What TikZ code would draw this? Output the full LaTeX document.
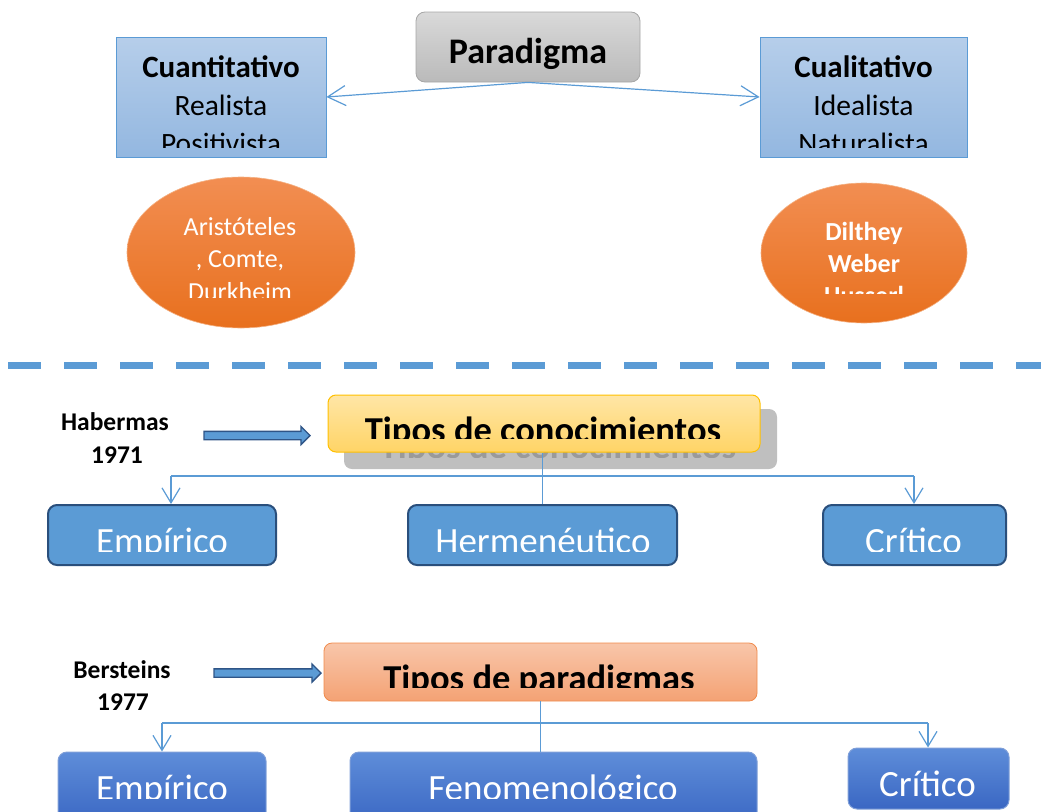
\documentclass[tikz,border=0pt]{standalone}
\usepackage{fontspec}
\setmainfont{Carlito}
\usetikzlibrary{arrows.meta,shapes.geometric,shapes.arrows}
\definecolor{lineblue}{HTML}{5B9BD5}
\definecolor{tboxtop}{HTML}{B6CEEA}
\definecolor{tboxbot}{HTML}{93B7E0}
\definecolor{grtop}{HTML}{D9D9D9}
\definecolor{grbot}{HTML}{BABABA}
\definecolor{grline}{HTML}{A6A6A6}
\definecolor{ortop}{HTML}{F28E52}
\definecolor{orbot}{HTML}{E8701E}
\definecolor{orline}{HTML}{F4B183}
\definecolor{yetop}{HTML}{FFE6A6}
\definecolor{yebot}{HTML}{FFD466}
\definecolor{yeline}{HTML}{FFC000}
\definecolor{satop}{HTML}{F8C6AA}
\definecolor{sabot}{HTML}{F4A274}
\definecolor{saline}{HTML}{F08A4B}
\definecolor{midfill}{HTML}{5B9BD5}
\definecolor{midline}{HTML}{2A4F7C}
\definecolor{bbtop}{HTML}{5E8DD9}
\definecolor{bbbot}{HTML}{3A67C3}
\definecolor{bbline}{HTML}{7F9FD8}
\definecolor{shadowgray}{HTML}{BFBFBF}
\definecolor{shadowtext}{HTML}{9A9A9A}
\definecolor{arrowline}{HTML}{2F5587}
\tikzset{
  tbox/.style={draw=lineblue, line width=0.8pt, top color=tboxtop, bottom color=tboxbot, inner sep=0},
  gbox/.style={draw=grline, line width=0.8pt, rounded corners=9pt, top color=grtop, bottom color=grbot, inner sep=0},
  ell/.style={ellipse, draw=orline, line width=0.6pt, top color=ortop, bottom color=orbot, inner sep=0},
  ybox/.style={draw=yeline, line width=1pt, rounded corners=8pt, top color=yetop, bottom color=yebot, inner sep=0},
  shbox/.style={fill=shadowgray, rounded corners=8pt, inner sep=0},
  sbox/.style={draw=saline, line width=0.8pt, rounded corners=8pt, top color=satop, bottom color=sabot, inner sep=0},
  mbox/.style={draw=midline, line width=2pt, rounded corners=9pt, fill=midfill, inner sep=0},
  bbox/.style={draw=bbline, line width=1pt, rounded corners=9pt, top color=bbtop, bottom color=bbbot, inner sep=0},
  txt/.style={anchor=base, inner sep=0},
  boldbig/.style={txt, font=\fontsize{36}{42}\bfseries\selectfont},
  boxb/.style={txt, font=\fontsize{31}{36}\bfseries\selectfont},
  boxr/.style={txt, font=\fontsize{29.5}{36}\selectfont},
  elltxt/.style={txt, text=white, font=\fontsize{26}{30}\selectfont},
  elltxtb/.style={txt, text=white, font=\fontsize{26}{30}\bfseries\selectfont},
  auth/.style={txt, font=\fontsize{25.5}{30}\bfseries\selectfont},
  headtxt/.style={txt, font=\fontsize{36.5}{42}\bfseries\selectfont},
  whitebig/.style={txt, text=white, font=\fontsize{37}{42}\selectfont},
  conn/.style={draw=lineblue, line width=1.2pt, -{Straight Barb[length=18pt,width=20pt]}},
  connb/.style={draw=lineblue, line width=1.2pt, -{Straight Barb[length=15pt,width=18pt]}},
  plain/.style={draw=lineblue, line width=1.2pt},
  fatarrow/.style={single arrow, draw=arrowline, line width=1.3pt, fill=midfill, inner sep=3.5pt,
    single arrow head extend=5pt, single arrow tip angle=90, minimum width=17pt}
}
\begin{document}
\begin{tikzpicture}[x=1pt,y=-1pt]
\useasboundingbox (0,0) rectangle (1041,811);

% ---------- top part ----------
\node[gbox, minimum width=224pt, minimum height=70pt] (par) at (528,47) {};
\node[boldbig] (partxt) at (528,63) {Paradigma};

\node[tbox, minimum width=210pt, minimum height=120pt] (cuan) at (221,97) {};
\node[boxb] (cuan1) at (221,77) {Cuantitativo};
\node[boxr] (cuan2) at (221,115) {Realista};
\begin{scope}
\clip (116,37) rectangle (326,147);
\node[boxr] (cuan3) at (221,153) {Positivista};
\end{scope}

\node[tbox, minimum width=207pt, minimum height=120pt] (cual) at (863.5,97) {};
\node[boxb] (cual1) at (863.5,77) {Cualitativo};
\node[boxr] (cual2) at (863.5,115) {Idealista};
\begin{scope}
\clip (760,37) rectangle (967,147);
\node[boxr] (cual3) at (863.5,153) {Naturalista};
\end{scope}

\draw[conn] (par.south) -- (cuan.east);
\draw[conn] (par.south) -- (cual.west);

\node[ell, minimum width=228pt, minimum height=151pt] (e1) at (241,252.5) {};
\node[elltxt] (e1a) at (240,235) {Aristóteles};
\node[elltxt] (e1b) at (240,267) {, Comte,};
\begin{scope}
\clip (150,200) rectangle (330,297);
\node[elltxt] (e1c) at (240,300) {Durkheim};
\end{scope}

\node[ell, minimum width=206pt, minimum height=140pt] (e2) at (864,253) {};
\node[elltxtb] (e2a) at (864,240) {Dilthey};
\node[elltxtb] (e2b) at (864,272) {Weber};
\begin{scope}
\clip (780,200) rectangle (950,293);
\node[elltxtb] (e2c) at (864,304) {Husserl};
\end{scope}

% ---------- separator ----------
\draw[lineblue, line width=7pt, dash pattern=on 33pt off 23pt] (8,365.5) -- (1041,365.5);

% ---------- Habermas ----------
\node[auth] (hab1) at (115,430) {Habermas};
\node[auth] (hab2) at (117,463) {1971};
\node[fatarrow, minimum height=106pt] (ar1) at (255,435.5) {};

\node[shbox, minimum width=433pt, minimum height=60pt] (shad) at (560.5,439) {};
\begin{scope}
\clip (344,452) rectangle (777,457);
\node[headtxt, text=shadowtext] (shadtxt) at (558,458) {Tipos de conocimientos};
\end{scope}
\node[ybox, minimum width=432pt, minimum height=57pt] (conoc) at (544,423.5) {};
\begin{scope}
\clip (330,396) rectangle (760,438);
\node[headtxt] (conoctxt) at (543,442) {Tipos de conocimientos};
\end{scope}

\node[mbox, minimum width=228pt, minimum height=60pt] (emp) at (162,535) {};
\node[mbox, minimum width=269pt, minimum height=60pt] (herm) at (542.5,535) {};
\node[mbox, minimum width=183pt, minimum height=60pt] (crit) at (914.5,535) {};
\begin{scope}
\clip (0,505) rectangle (1041,551);
\node[whitebig] (emptxt) at (162,553) {Empírico};
\node[whitebig] (hermtxt) at (543,553) {Hermenéutico};
\node[whitebig] (crittxt) at (913.5,553) {Crítico};
\end{scope}

\coordinate (hl) at (171,476);
\coordinate (hr) at (914,476);
\draw[plain] (hl) -- (hr);
\draw[plain] (herm.north) -- (herm.north |- conoc.south);
\draw[connb] (hl) -- (hl |- emp.north);
\draw[connb] (hr) -- (hr |- crit.north);

% ---------- Bersteins ----------
\node[auth] (ber1) at (122,678) {Bersteins};
\node[auth] (ber2) at (123,710) {1977};
\node[fatarrow, minimum height=107pt] (ar2) at (265.5,673) {};

\node[sbox, minimum width=433pt, minimum height=58pt] (para) at (540.5,672) {};
\begin{scope}
\clip (326,645) rectangle (755,687);
\node[headtxt] (paratxt) at (539,690) {Tipos de paradigmas};
\end{scope}

\node[bbox, minimum width=208pt, minimum height=72pt] (emp2) at (162,788) {};
\node[bbox, minimum width=407pt, minimum height=72pt] (feno) at (553.5,788) {};
\node[bbox, minimum width=161pt, minimum height=61pt] (crit2) at (928.5,778.5) {};
\begin{scope}
\clip (0,752) rectangle (840,798);
\node[whitebig] (emp2txt) at (162,800) {Empírico};
\node[whitebig] (fenotxt) at (553,800) {Fenomenológico};
\end{scope}
\node[whitebig] (crit2txt) at (927.5,796) {Crítico};

\coordinate (bl) at (162,723);
\coordinate (br) at (928,723);
\draw[plain] (bl) -- (br);
\draw[plain] (feno.north -| para.south) -- (para.south);
\draw[connb] (bl) -- (bl |- emp2.north);
\draw[connb] (br) -- (br |- crit2.north);
\end{tikzpicture}
\end{document}
